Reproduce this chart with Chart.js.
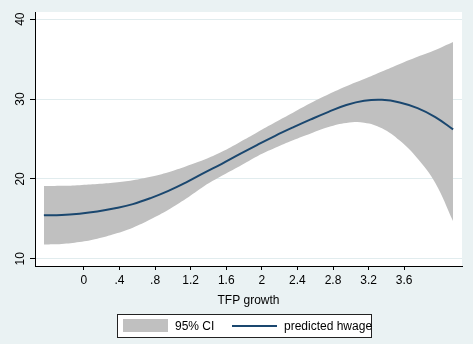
<!DOCTYPE html>
<html>
<head>
<meta charset="utf-8">
<script src="https://cdn.jsdelivr.net/npm/chart.js@4.4.0/dist/chart.umd.min.js"></script>
<style>
    html, body { margin: 0; padding: 0; background: #eaf2f3; }
    #contenedor { position: relative; width: 473px; height: 344px; }
    #grafico { position: absolute; left: 0; top: 0; }
    .leyenda {
        position: absolute; left: 117px; top: 314px; width: 253px; height: 22px;
        background: #fff; border: 1px solid #222;
        font: 12px "Liberation Sans", Arial, sans-serif; color: #000;
    }
    .leyenda span { position: absolute; white-space: nowrap; }
</style>
</head>
<body>
<div id="contenedor">
    <canvas id="grafico" width="473" height="344"></canvas>
    <div class="leyenda">
        <span style="left:5px; top:4px; width:45px; height:13px; background:#c0c0c0;"></span>
        <span style="left:57px; top:4px;">95% CI</span>
        <span style="left:114px; top:10px; width:45px; height:2px; background:#1a476f;"></span>
        <span style="left:166px; top:4px;">predicted hwage</span>
    </div>
</div>
<script>
// Valores (paso de 0.2 en el eje X)
const valoresX = [-0.45, -0.25, -0.05, 0.15, 0.35, 0.55, 0.75, 0.95, 1.15, 1.35, 1.55, 1.75, 1.95, 2.15, 2.35, 2.55, 2.75, 2.95, 3.15, 3.35, 3.55, 3.75, 3.95, 4.15];
const prediccion = [15.45, 15.48, 15.65, 15.92, 16.33, 16.85, 17.6, 18.5, 19.57, 20.75, 21.9, 23.1, 24.27, 25.4, 26.45, 27.45, 28.4, 29.25, 29.78, 29.9, 29.58, 28.87, 27.75, 26.2];
const limiteSuperior = [19.1, 19.14, 19.22, 19.36, 19.55, 19.85, 20.28, 20.85, 21.6, 22.4, 23.4, 24.6, 25.85, 27.1, 28.3, 29.5, 30.6, 31.6, 32.5, 33.45, 34.4, 35.3, 36.15, 37.15];
const limiteInferior = [11.8, 11.86, 12.1, 12.52, 13.13, 13.9, 14.95, 16.15, 17.55, 19.1, 20.4, 21.6, 22.85, 23.9, 24.85, 25.7, 26.5, 27.0, 27.05, 26.35, 24.8, 22.55, 19.5, 14.7];

const ticksX = [0, 0.4, 0.8, 1.2, 1.6, 2, 2.4, 2.8, 3.2, 3.6];
const ticksY = [10, 20, 30, 40];

const fuente = '"Liberation Sans", Arial, sans-serif';

function aPuntos(valores) {
    return valoresX.map((x, i) => ({ x: x, y: valores[i] }));
}

// Fondo del grafico y area blanca de la zona de datos
const fondoGrafico = {
    id: 'fondoGrafico',
    beforeDraw(chart) {
        const ctx = chart.ctx;
        const area = chart.chartArea;
        ctx.save();
        ctx.fillStyle = '#eaf2f3';
        ctx.fillRect(0, 0, chart.width, chart.height);
        ctx.fillStyle = '#ffffff';
        ctx.fillRect(area.left, area.top, area.right - area.left, area.bottom - area.top);
        ctx.restore();
    }
};

// Etiquetas del eje Y giradas (como en Stata)
const etiquetasEjeY = {
    id: 'etiquetasEjeY',
    afterDraw(chart) {
        const escala = chart.scales.y;
        const ctx = chart.ctx;
        ctx.save();
        ctx.fillStyle = '#000';
        ctx.font = '12px ' + fuente;
        ctx.textAlign = 'center';
        ctx.textBaseline = 'middle';
        ticksY.forEach(v => {
            const y = escala.getPixelForValue(v);
            ctx.save();
            ctx.translate(21, y);
            ctx.rotate(-Math.PI / 2);
            ctx.fillText(String(v), 0, 0);
            ctx.restore();
        });
        ctx.restore();
    }
};

const ctxGrafico = document.getElementById('grafico').getContext('2d');
const graficoPrediccion = new Chart(ctxGrafico, {
    type: 'line',
    data: {
        datasets: [{
            label: 'predicted hwage',
            data: aPuntos(prediccion),
            borderColor: '#1a476f',
            borderWidth: 2,
            pointRadius: 0,
            fill: false,
            tension: 0.4,
            order: 0
        }, {
            label: '95% CI',
            data: aPuntos(limiteSuperior),
            borderWidth: 0,
            pointRadius: 0,
            backgroundColor: '#c0c0c0',
            fill: '+1',
            tension: 0.4,
            order: 1
        }, {
            label: 'lower',
            data: aPuntos(limiteInferior),
            borderWidth: 0,
            pointRadius: 0,
            fill: false,
            tension: 0.4,
            order: 2
        }]
    },
    options: {
        responsive: false,
        animation: false,
        layout: {
            padding: { left: 0, right: 11, top: 12, bottom: 34 }
        },
        scales: {
            x: {
                type: 'linear',
                min: -0.55,
                max: 4.25,
                afterBuildTicks: (escala) => { escala.ticks = ticksX.map(v => ({ value: v })); },
                afterFit: (escala) => { escala.height = 44; },
                border: { display: true, color: '#000', width: 1 },
                grid: {
                    drawOnChartArea: false,
                    drawTicks: true,
                    tickLength: 4,
                    tickColor: '#000'
                },
                ticks: {
                    color: '#000',
                    padding: 3,
                    maxRotation: 0,
                    font: { family: fuente, size: 12 },
                    callback: (valor) => String(Math.round(valor * 10) / 10).replace(/^0\./, '.')
                },
                title: {
                    display: true,
                    text: 'TFP growth',
                    color: '#000',
                    font: { family: fuente, size: 12 },
                    padding: { top: 0, bottom: 2 }
                }
            },
            y: {
                min: 9.1,
                max: 40.9,
                afterBuildTicks: (escala) => { escala.ticks = ticksY.map(v => ({ value: v })); },
                afterFit: (escala) => { escala.width = 35; },
                border: { display: true, color: '#000', width: 1 },
                grid: {
                    color: '#e1ecee',
                    lineWidth: 1,
                    drawTicks: true,
                    tickLength: 5,
                    tickColor: '#000'
                },
                ticks: {
                    color: 'rgba(0,0,0,0)',
                    font: { family: fuente, size: 12 }
                }
            }
        },
        plugins: {
            legend: { display: false },
            tooltip: { enabled: false },
            filler: { drawTime: 'beforeDatasetsDraw' }
        }
    },
    plugins: [fondoGrafico, etiquetasEjeY]
});
</script>
</body>
</html>
